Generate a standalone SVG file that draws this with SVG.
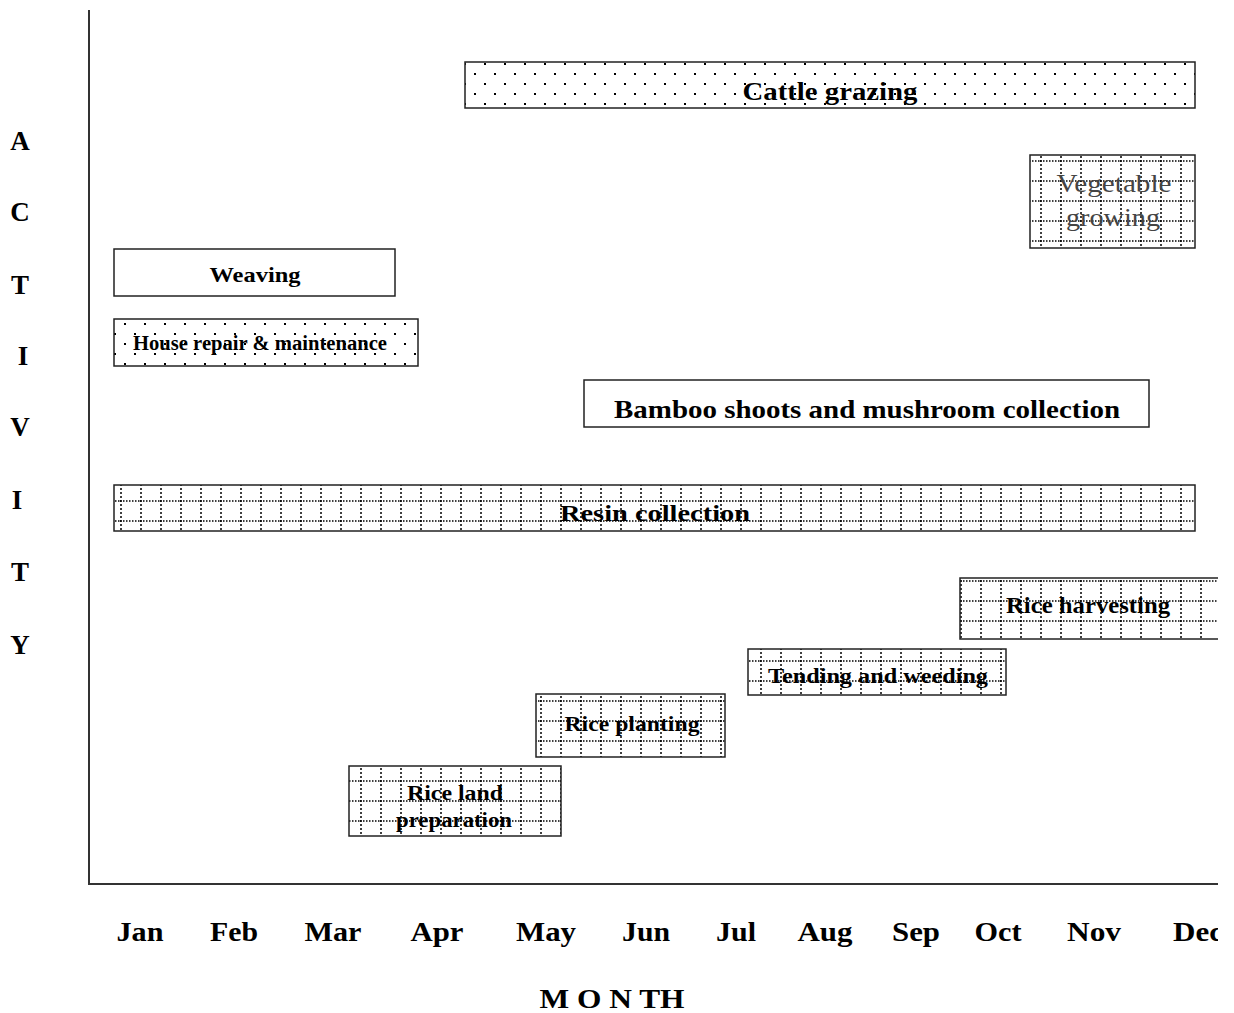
<svg xmlns="http://www.w3.org/2000/svg" width="1234" height="1013" viewBox="0 0 1234 1013">
<style>
text{font-family:"Liberation Serif","Times New Roman",serif;font-weight:bold;fill:#000;}
.axis{font-size:27px;text-anchor:middle;}
.lbl{text-anchor:middle;}
.box{stroke:#222;stroke-width:1.5;}
</style>
<defs>
<pattern id="dots" width="20" height="20" patternUnits="userSpaceOnUse">
<rect x="0" y="0" width="20" height="20" fill="#fff"/>
<rect x="4" y="3" width="2" height="2" fill="#000"/>
<rect x="14" y="13" width="2" height="2" fill="#000"/>
</pattern>
<pattern id="grid" width="20" height="20" patternUnits="userSpaceOnUse">
<rect x="0" y="0" width="20" height="20" fill="#fff"/>
<path d="M0 1 H20" stroke="#000" stroke-width="1.5" stroke-dasharray="1.5 1.5"/>
<path d="M1 0 V20" stroke="#000" stroke-width="1.5" stroke-dasharray="2 2"/>
</pattern>
<clipPath id="page"><rect x="0" y="0" width="1218" height="1013"/></clipPath>
</defs>
<rect width="1234" height="1013" fill="#fff"/>
<g id="axes" stroke="#333" stroke-width="2" fill="none">
<path d="M89 10 V884 H1218"/>
</g>
<g id="y-label">
<text class="axis" x="20" y="150">A</text>
<text class="axis" x="20" y="221">C</text>
<text class="axis" x="20" y="294">T</text>
<text class="axis" x="23" y="365">I</text>
<text class="axis" x="20" y="436">V</text>
<text class="axis" x="17" y="509">I</text>
<text class="axis" x="20" y="581">T</text>
<text class="axis" x="20" y="654">Y</text>
</g>
<g id="x-label" clip-path="url(#page)">
<text class="axis" x="140" y="941" textLength="47" lengthAdjust="spacingAndGlyphs">Jan</text>
<text class="axis" x="234" y="941" textLength="48" lengthAdjust="spacingAndGlyphs">Feb</text>
<text class="axis" x="333" y="941" textLength="57" lengthAdjust="spacingAndGlyphs">Mar</text>
<text class="axis" x="437" y="941" textLength="53" lengthAdjust="spacingAndGlyphs">Apr</text>
<text class="axis" x="546" y="941" textLength="60" lengthAdjust="spacingAndGlyphs">May</text>
<text class="axis" x="646" y="941" textLength="48" lengthAdjust="spacingAndGlyphs">Jun</text>
<text class="axis" x="736" y="941" textLength="40" lengthAdjust="spacingAndGlyphs">Jul</text>
<text class="axis" x="825" y="941" textLength="55" lengthAdjust="spacingAndGlyphs">Aug</text>
<text class="axis" x="916" y="941" textLength="48" lengthAdjust="spacingAndGlyphs">Sep</text>
<text class="axis" x="998" y="941" textLength="47" lengthAdjust="spacingAndGlyphs">Oct</text>
<text class="axis" x="1094" y="941" textLength="54" lengthAdjust="spacingAndGlyphs">Nov</text>
<text class="axis" x="1198" y="941" textLength="50" lengthAdjust="spacingAndGlyphs">Dec</text>
<text class="axis" x="612" y="1008" textLength="145" lengthAdjust="spacingAndGlyphs">M O N TH</text>
</g>
<g id="cattle">
<rect class="box" x="465" y="62" width="730" height="46" fill="url(#dots)"/>
<text class="lbl" x="830" y="100" font-size="25" textLength="175" lengthAdjust="spacingAndGlyphs">Cattle grazing</text>
</g>
<g id="vegetable">
<rect class="box" x="1030" y="155" width="165" height="93" fill="url(#grid)"/>
<text class="lbl" x="1114" y="192" font-size="25" style="font-weight:normal;fill:#444" textLength="115" lengthAdjust="spacingAndGlyphs">Vegetable</text>
<text class="lbl" x="1113" y="226" font-size="25" style="font-weight:normal;fill:#444" textLength="94" lengthAdjust="spacingAndGlyphs">growing</text>
</g>
<g id="weaving">
<rect class="box" x="114" y="249" width="281" height="47" fill="#fff"/>
<text class="lbl" x="255" y="282" font-size="22" textLength="91" lengthAdjust="spacingAndGlyphs">Weaving</text>
</g>
<g id="house">
<rect class="box" x="114" y="319" width="304" height="47" fill="url(#dots)"/>
<text class="lbl" x="260" y="350" font-size="20" textLength="254" lengthAdjust="spacingAndGlyphs">House repair &amp; maintenance</text>
</g>
<g id="bamboo">
<rect class="box" x="584" y="380" width="565" height="47" fill="#fff"/>
<text class="lbl" x="867" y="418" font-size="26" textLength="506" lengthAdjust="spacingAndGlyphs">Bamboo shoots and mushroom collection</text>
</g>
<g id="resin">
<rect class="box" x="114" y="485" width="1081" height="46" fill="url(#grid)"/>
<text class="lbl" x="655" y="521" font-size="24" textLength="190" lengthAdjust="spacingAndGlyphs">Resin collection</text>
</g>
<g id="harvest" clip-path="url(#page)">
<rect class="box" x="960" y="578" width="280" height="61" fill="url(#grid)"/>
<text class="lbl" x="1088" y="613" font-size="23" textLength="164" lengthAdjust="spacingAndGlyphs">Rice  harvesting</text>
</g>
<g id="tending">
<rect class="box" x="748" y="649" width="258" height="46" fill="url(#grid)"/>
<text class="lbl" x="878" y="683" font-size="22" textLength="220" lengthAdjust="spacingAndGlyphs">Tending and weeding</text>
</g>
<g id="planting">
<rect class="box" x="536" y="694" width="189" height="63" fill="url(#grid)"/>
<text class="lbl" x="632" y="731" font-size="22" textLength="135" lengthAdjust="spacingAndGlyphs">Rice planting</text>
</g>
<g id="landprep">
<rect class="box" x="349" y="766" width="212" height="70" fill="url(#grid)"/>
<text class="lbl" x="455" y="800" font-size="22" textLength="96" lengthAdjust="spacingAndGlyphs">Rice land</text>
<text class="lbl" x="454" y="827" font-size="22" textLength="116" lengthAdjust="spacingAndGlyphs">preparation</text>
</g>
</svg>
